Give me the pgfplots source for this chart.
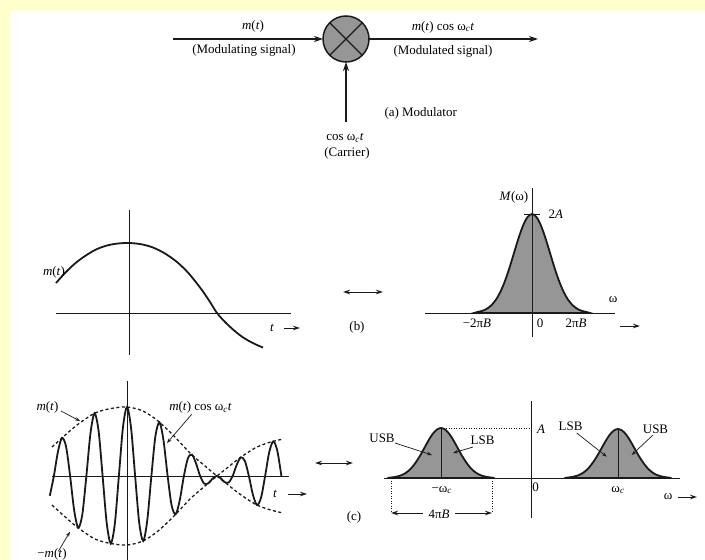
\documentclass[border=0pt]{standalone}
\usepackage{fontspec}
\setmainfont{Liberation Serif}
\usepackage{pgfplots}
\pgfplotsset{compat=1.18}
\usetikzlibrary{arrows.meta}

\definecolor{bgyellow}{HTML}{FFFFCC}
\definecolor{ink}{HTML}{1A1A1A}
\definecolor{bellgray}{HTML}{969696}

% every panel: pixel-sized data units, no drawn frame
\pgfplotsset{panel/.style={hide axis, scale only axis, clip=false, enlargelimits=false}}
\tikzset{
  axln/.style={draw=ink, line width=1bp},
  curve/.style={draw=ink, line width=1.8bp},
  note/.style={draw=ink, line width=0.7bp, -{Stealth[length=5bp,width=3.5bp]}},
  bigarrow/.style={draw=ink, line width=1.4bp, -{Stealth[length=9bp,width=6bp]}},
  dirarrow/.style={draw=ink, line width=1bp, -{Stealth[length=7bp,width=4.5bp]}},
  dots/.style={draw=ink, line width=0.8bp, dash pattern=on 1bp off 1.5bp},
}
\newcommand{\mt}{\textit{m}(\textit{t})}
\newcommand{\wc}{ω\textsubscript{\textit{c}}}

\begin{document}
\fontsize{13}{15}\selectfont
\begin{tikzpicture}[x=1bp,y=-1bp]
\useasboundingbox (0,0) rectangle (705,560);
\fill[bgyellow] (0,0) rectangle (705,560);
\fill[white] (10,11) rectangle (705,560);

% (a) modulator
\draw[bigarrow] (173,39) -- (323,39);
\draw[bigarrow] (369,39) -- (538,39);
\draw[bigarrow] (346,122) -- (346,62);
\filldraw[fill=bellgray, draw=ink, line width=1.5bp] (346,39) circle[radius=23bp];
\draw[ink, line width=1.3bp] (329.7,22.7) -- (362.3,55.3);
\draw[ink, line width=1.3bp] (329.7,55.3) -- (362.3,22.7);
\node at (253,26) {\mt};
\node at (244,50) {(Modulating signal)};
\node at (443,27) {\mt\ cos \wc\textit{t}};
\node at (443,51) {(Modulated signal)};
\node[anchor=west] at (380,113) {(a) Modulator};
\node at (345,138) {cos \wc\textit{t}};
\node at (347,153) {(Carrier)};

% separators between time and frequency panels
\draw[ink, line width=1bp, {Stealth[length=7bp,width=4.5bp]}-{Stealth[length=7bp,width=4.5bp]}] (343,292) -- (383,292);
\node at (357,327) {(b)};
\draw[ink, line width=1bp, {Stealth[length=7bp,width=4.5bp]}-{Stealth[length=7bp,width=4.5bp]}] (315,463) -- (353,463);
\node at (354,517) {(c)};

% (b) m(t)
\begin{axis}[panel, at={(56bp,-355bp)}, anchor=south west,
  width=235bp, height=145bp, xmin=-73, xmax=162, ymin=-42, ymax=103]
\draw[axln] (axis cs:-73,0) -- (axis cs:162,0);
\draw[axln] (axis cs:0,-42) -- (axis cs:0,103);
\addplot[curve, smooth] coordinates {
  (-73,30) (-64,40) (-54,49.5) (-44,57) (-33,63.5) (-22,67.5) (-11,69.5) (0,70)
  (12,68.8) (24,65.5) (36,59.5) (48,51) (58,41.5) (66,32) (74,21.5) (81,11)
  (88,0) (96,-9) (104,-16.5) (112,-23) (120,-28) (128,-32) (134,-34.5)
};
\node at (axis cs:-75,41) {\mt};
\node at (axis cs:143,-15) {\textit{t}};
\draw[dirarrow] (axis cs:155,-15) -- (axis cs:171,-15);
\end{axis}

% (b) M(omega)
\begin{axis}[panel, at={(425bp,-337bp)}, anchor=south west,
  width=190bp, height=149bp, xmin=-107, xmax=83, ymin=-24, ymax=125]
\addplot[curve, smooth, fill=bellgray] coordinates {
  (-58,0) (-54,1.1) (-49.5,2.26) (-45,4.35) (-40.5,7.88) (-36,13.4) (-31.5,21.41)
  (-27,32.15) (-22.5,45.32) (-18,60.04) (-13.5,74.73) (-9,87.37) (-4.5,95.95)
  (0,99) (4.5,95.95) (9,87.37) (13.5,74.73) (18,60.04) (22.5,45.32) (27,32.15)
  (31.5,21.41) (36,13.4) (40.5,7.88) (45,4.35) (49.5,2.26) (54,1.1) (58,0)
} \closedcycle;
\draw[axln] (axis cs:-107,0) -- (axis cs:83,0);
\draw[axln] (axis cs:0,-24) -- (axis cs:0,125);
\draw[axln] (axis cs:-8,99) -- (axis cs:8,99);
\node at (axis cs:-18,116) {\textit{M}(ω)};
\node[anchor=west] at (axis cs:12,99) {2\textit{A}};
\node at (axis cs:-55,-10) {−2π\textit{B}};
\node at (axis cs:8,-10) {0};
\node at (axis cs:44,-10) {2π\textit{B}};
\node at (axis cs:81,13) {ω};
\draw[dirarrow] (axis cs:88,-13) -- (axis cs:108,-13);
\end{axis}

% (c) m(t) cos wc t
\begin{axis}[panel, at={(52bp,-560bp)}, anchor=south west,
  width=237bp, height=179bp, xmin=-75, xmax=162, ymin=-84, ymax=95]
\draw[axln] (axis cs:-75,0) -- (axis cs:162,0);
\draw[axln] (axis cs:0,-84) -- (axis cs:0,95);
\addplot[draw=ink, line width=1.3bp, dash pattern=on 3bp off 2.5bp, smooth] coordinates {
  (-75,29) (-64,39) (-50,51) (-32,63) (-16,67.5) (0,69) (16,65) (31,55) (47,40)
  (63,23) (78,10) (90,0) (100,-8) (110,-16) (120,-23) (130,-29) (142,-33.5) (156,-37)
};
\addplot[draw=ink, line width=1.3bp, dash pattern=on 3bp off 2.5bp, smooth] coordinates {
  (-75,-29) (-64,-39) (-50,-51) (-32,-63) (-16,-67.5) (0,-69) (16,-65) (31,-55) (47,-40)
  (63,-23) (78,-10) (90,0) (100,8) (110,16) (120,23) (130,29) (142,33.5) (156,37)
};
\addplot[curve, smooth] coordinates {
  (-77.19,-19.8) (-73.13,0) (-69.06,24.3) (-65,38.1) (-60.94,29.4) (-56.88,0)
  (-52.81,-34.4) (-48.75,-51.8) (-44.69,-38.5) (-40.63,0) (-36.56,42.4) (-32.5,62.7)
  (-28.44,45.3) (-24.38,0) (-20.31,-46.9) (-16.25,-67.5) (-12.19,-48) (-8.13,0)
  (-4.06,48.5) (0,69) (4.06,48.1) (8.13,0) (12.19,-46.6) (16.25,-65) (20.31,-43.9)
  (24.38,0) (28.44,40.1) (32.5,53.6) (36.56,35.2) (40.63,0) (44.69,-29.8) (48.75,-38.1)
  (52.81,-23.9) (56.88,0) (60.94,17.8) (65,21.3) (69.06,12.5) (73.13,0) (77.19,-7.6)
  (81.25,-7.3) (85.31,-2.8) (89.38,0) (93.44,-1.9) (97.5,-6) (101.56,-6.5) (105.63,0)
  (109.69,11.1) (113.75,18.6) (117.81,15.2) (121.88,0) (125.94,-18.8) (130,-29)
  (134.06,-21.6) (138.13,0) (142.19,23.7) (146.25,34.6) (150.31,25.2) (154.38,0)
};
\node at (axis cs:-79.5,68.3) {\mt};
\draw[note] (axis cs:-66,65) -- (axis cs:-47,55);
\node at (axis cs:73.5,68.3) {\mt\ cos \wc\textit{t}};
\draw[note] (axis cs:64.7,61.7) -- (axis cs:40,33);
\node at (axis cs:-75,-78.5) {−\mt};
\draw[note] (axis cs:-68.7,-75.3) -- (axis cs:-57,-55.7);
\node at (axis cs:148,-18.3) {\textit{t}};
\draw[dirarrow] (axis cs:161,-18) -- (axis cs:180,-18);
\end{axis}

% (c) spectrum
\begin{axis}[panel, at={(384bp,-518bp)}, anchor=south west,
  width=296bp, height=117bp, xmin=-147, xmax=149, ymin=-40, ymax=77]
\addplot[curve, smooth, fill=bellgray] coordinates {
  (-143.6,0) (-139.5,0.56) (-135.4,1.14) (-131.3,2.2) (-127.1,3.98) (-123,6.77)
  (-118.9,10.81) (-114.8,16.24) (-110.6,22.89) (-106.5,30.33) (-102.4,37.74)
  (-98.3,44.12) (-94.1,48.46) (-90,50) (-85.9,48.46) (-81.7,44.12) (-77.6,37.74)
  (-73.5,30.33) (-69.4,22.89) (-65.2,16.24) (-61.1,10.81) (-57,6.77) (-52.9,3.98)
  (-48.7,2.2) (-44.6,1.14) (-40.5,0.56) (-36.4,0)
} \closedcycle;
\addplot[curve, smooth, fill=bellgray] coordinates {
  (33.4,0) (37.5,0.55) (41.6,1.12) (45.7,2.16) (49.9,3.9) (54,6.63) (58.1,10.59)
  (62.2,15.92) (66.4,22.43) (70.5,29.72) (74.6,36.99) (78.7,43.24) (82.9,47.49)
  (87,49) (91.1,47.49) (95.3,43.24) (99.4,36.99) (103.5,29.72) (107.6,22.43)
  (111.8,15.92) (115.9,10.59) (120,6.63) (124.1,3.9) (128.3,2.16) (132.4,1.12)
  (136.5,0.55) (140.6,0)
} \closedcycle;
\draw[axln] (axis cs:-147,0) -- (axis cs:149,0);
\draw[axln] (axis cs:0,-40) -- (axis cs:0,77);
\draw[axln] (axis cs:-90,0) -- (axis cs:-90,50);
\draw[axln] (axis cs:87,0) -- (axis cs:87,49);
\draw[dots] (axis cs:-90,50) -- (axis cs:0,50);
\draw[dots] (axis cs:-140,0) -- (axis cs:-140,-35);
\draw[dots] (axis cs:-39,0) -- (axis cs:-39,-35);
\draw[dirarrow] (axis cs:-108,-35) -- (axis cs:-140,-35);
\draw[dirarrow] (axis cs:-76,-35) -- (axis cs:-39,-35);
\node at (axis cs:-92,-36) {4π\textit{B}};
\node[anchor=west] at (axis cs:1.5,49) {\textit{A}};
\node at (axis cs:4.5,-9.5) {0};
\node at (axis cs:-89.3,-12) {−\wc};
\node at (axis cs:87,-12) {\wc};
\node at (axis cs:137,-19) {ω};
\draw[dirarrow] (axis cs:147,-19) -- (axis cs:166,-19);
\node at (axis cs:-149,39.7) {USB};
\draw[note] (axis cs:-136,35) -- (axis cs:-99,23);
\node at (axis cs:-48.5,38) {LSB};
\draw[note] (axis cs:-58,31) -- (axis cs:-78,25);
\node at (axis cs:39.5,51.3) {LSB};
\draw[note] (axis cs:45.7,45) -- (axis cs:75.7,21.3);
\node at (axis cs:124.5,48.7) {USB};
\draw[note] (axis cs:122,43) -- (axis cs:100.7,23);
\end{axis}
\end{tikzpicture}
\end{document}
